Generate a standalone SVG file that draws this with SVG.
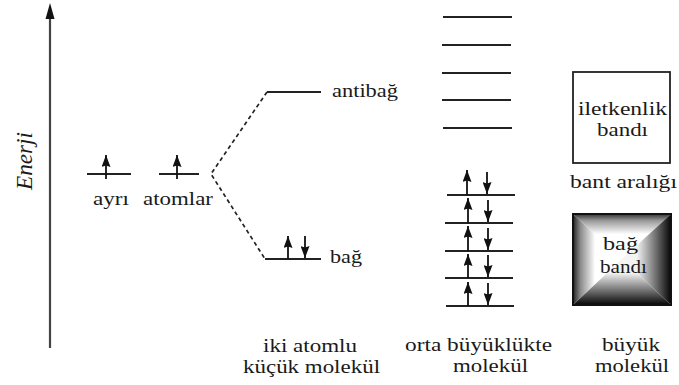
<svg xmlns="http://www.w3.org/2000/svg" width="679" height="385" viewBox="0 0 679 385" font-family="Liberation Serif, Tinos, Times New Roman, serif">
  <defs>
    <style>
      text { font-size: 19px; fill: #1a1a1a; }
      .lvl { stroke: #222; stroke-width: 1.8; fill: none; }
      .spin { stroke: #111; stroke-width: 1.8; fill: none; marker-end: url(#head); }
      .dash { stroke: #222; stroke-width: 1.7; fill: none; stroke-dasharray: 4 3.2; }
    </style>
    <marker id="head" viewBox="0 0 12 9" markerWidth="12" markerHeight="9" refX="12" refY="4.5" orient="auto" markerUnits="userSpaceOnUse">
      <path d="M0,0 L12,4.5 L0,9 L1.5,4.5 Z" fill="#111"/>
    </marker>
    <linearGradient id="gTop" gradientUnits="userSpaceOnUse" x1="0" y1="214" x2="0" y2="259">
      <stop offset="0" stop-color="#333"/>
      <stop offset="0.15" stop-color="#9a9a9a"/>
      <stop offset="0.45" stop-color="#fff"/>
    </linearGradient>
    <linearGradient id="gLeft" gradientUnits="userSpaceOnUse" x1="573" y1="0" x2="622" y2="0">
      <stop offset="0" stop-color="#222"/>
      <stop offset="0.15" stop-color="#8a8a8a"/>
      <stop offset="0.45" stop-color="#fff"/>
    </linearGradient>
    <linearGradient id="gRight" gradientUnits="userSpaceOnUse" x1="671" y1="0" x2="622" y2="0">
      <stop offset="0" stop-color="#050505"/>
      <stop offset="0.2" stop-color="#4a4a4a"/>
      <stop offset="0.7" stop-color="#f4f4f4"/>
    </linearGradient>
    <linearGradient id="gBottom" gradientUnits="userSpaceOnUse" x1="0" y1="305" x2="0" y2="259">
      <stop offset="0" stop-color="#050505"/>
      <stop offset="0.2" stop-color="#4a4a4a"/>
      <stop offset="0.7" stop-color="#f4f4f4"/>
    </linearGradient>
  </defs>

  <rect width="679" height="385" fill="#fff"/>

  <!-- energy axis -->
  <g id="axis">
    <line x1="50" y1="348" x2="50" y2="16" stroke="#444" stroke-width="2.2"/>
    <polygon points="50,3 45.5,19 54.5,19" fill="#111"/>
    <text font-style="italic" font-size="24" transform="translate(32,190) rotate(-90) scale(1,1.2)" textLength="58" lengthAdjust="spacingAndGlyphs">Enerji</text>
  </g>

  <!-- separate atoms -->
  <g id="atoms">
    <line class="lvl" x1="87" y1="174" x2="131" y2="174"/>
    <line class="lvl" x1="159" y1="174" x2="199" y2="174"/>
    <line class="spin" x1="106" y1="179" x2="106" y2="155"/>
    <line class="spin" x1="177" y1="179" x2="177" y2="155"/>
    <text x="93" y="205" textLength="36" lengthAdjust="spacingAndGlyphs">ayrı</text>
    <text x="143" y="205" textLength="70" lengthAdjust="spacingAndGlyphs">atomlar</text>
  </g>

  <!-- connectors from atomic levels to molecular orbitals -->
  <g id="connectors">
    <path class="dash" d="M267,92 L211,174 L265,259"/>
  </g>

  <!-- diatomic molecule -->
  <g id="diatomic">
    <line class="lvl" x1="267" y1="92" x2="321" y2="92"/>
    <text x="332" y="97" textLength="66" lengthAdjust="spacingAndGlyphs">antibağ</text>
    <line class="lvl" x1="265" y1="259" x2="321" y2="259"/>
    <line class="spin" x1="288" y1="259" x2="288" y2="236"/>
    <line class="spin" x1="305" y1="236" x2="305" y2="258"/>
    <text x="330" y="263" textLength="32" lengthAdjust="spacingAndGlyphs">bağ</text>
    <text x="263" y="352" textLength="94" lengthAdjust="spacingAndGlyphs">iki atomlu</text>
    <text x="243" y="373" textLength="137" lengthAdjust="spacingAndGlyphs">küçük molekül</text>
  </g>

  <!-- medium-size molecule -->
  <g id="medium">
    <line class="lvl" x1="443" y1="17" x2="512" y2="17"/>
    <line class="lvl" x1="442" y1="45" x2="511" y2="45"/>
    <line class="lvl" x1="442" y1="73" x2="511" y2="73"/>
    <line class="lvl" x1="442" y1="100" x2="511" y2="100"/>
    <line class="lvl" x1="443" y1="128" x2="512" y2="128"/>

    <line class="lvl" x1="447" y1="195" x2="515" y2="195"/>
    <line class="lvl" x1="445" y1="223" x2="513" y2="223"/>
    <line class="lvl" x1="445" y1="251" x2="513" y2="251"/>
    <line class="lvl" x1="445" y1="278" x2="513" y2="278"/>
    <line class="lvl" x1="446" y1="306" x2="514" y2="306"/>

    <line class="spin" x1="467" y1="195" x2="467" y2="170"/>
    <line class="spin" x1="487" y1="172" x2="487" y2="194"/>
    <line class="spin" x1="468" y1="223" x2="468" y2="198"/>
    <line class="spin" x1="488" y1="200" x2="488" y2="222"/>
    <line class="spin" x1="468" y1="251" x2="468" y2="226"/>
    <line class="spin" x1="488" y1="228" x2="488" y2="250"/>
    <line class="spin" x1="468" y1="278" x2="468" y2="254"/>
    <line class="spin" x1="488" y1="255" x2="488" y2="277"/>
    <line class="spin" x1="468" y1="306" x2="468" y2="282"/>
    <line class="spin" x1="488" y1="283" x2="488" y2="305"/>

    <text x="405" y="351" textLength="147" lengthAdjust="spacingAndGlyphs">orta büyüklükte</text>
    <text x="453" y="372" textLength="75" lengthAdjust="spacingAndGlyphs">molekül</text>
  </g>

  <!-- large molecule: bands -->
  <g id="large">
    <rect x="573" y="72" width="97" height="91" fill="#fff" stroke="#222" stroke-width="1.8"/>
    <text x="578" y="115" textLength="89" lengthAdjust="spacingAndGlyphs">iletkenlik</text>
    <text x="597" y="136" textLength="51" lengthAdjust="spacingAndGlyphs">bandı</text>

    <text x="570" y="188" textLength="107" lengthAdjust="spacingAndGlyphs">bant aralığı</text>

    <polygon points="573,214 671,214 622,259" fill="url(#gTop)"/>
    <polygon points="573,214 573,305 622,259" fill="url(#gLeft)"/>
    <polygon points="671,214 671,305 622,259" fill="url(#gRight)"/>
    <polygon points="573,305 671,305 622,259" fill="url(#gBottom)"/>
    <rect x="573" y="214" width="98" height="91" fill="none" stroke="#111" stroke-width="2"/>
    <text x="603" y="250" textLength="35" lengthAdjust="spacingAndGlyphs">bağ</text>
    <text x="600" y="273" textLength="47" lengthAdjust="spacingAndGlyphs">bandı</text>

    <text x="602" y="351" textLength="58" lengthAdjust="spacingAndGlyphs">büyük</text>
    <text x="595" y="372" textLength="74" lengthAdjust="spacingAndGlyphs">molekül</text>
  </g>
</svg>
